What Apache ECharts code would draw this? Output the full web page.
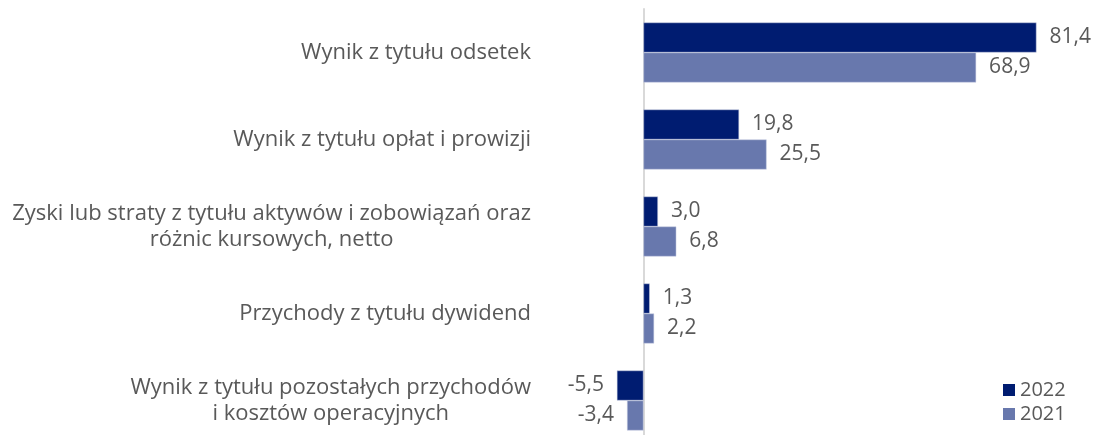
<!DOCTYPE html>
<html>
<head>
<meta charset="UTF-8">
<title>Wyniki</title>
<script src="https://cdn.jsdelivr.net/npm/echarts@6/dist/echarts.min.js"></script>
<style>
  html, body { margin: 0; padding: 0; background: #fff; }
</style>
</head>
<body>
<div id="main" style="width:1094px;height:435px;"></div>
<script type="text/javascript">
var categories = [
  'Wynik z tytułu odsetek',
  'Wynik z tytułu opłat i prowizji',
  'Zyski lub straty z tytułu aktywów i zobowiązań oraz\nróżnic kursowych, netto',
  'Przychody z tytułu dywidend',
  'Wynik z tytułu pozostałych przychodów\ni kosztów operacyjnych'
];
var values2022 = [81.4, 19.8, 3.0, 1.3, -5.5];
var values2021 = [68.9, 25.5, 6.8, 2.2, -3.4];

var fontFam = '"Open Sans", "Noto Sans", sans-serif';
var textGray = '#595959';

function fmt(p) {
  return p.value.toFixed(1).replace('.', ',');
}

// ujemne wartosci maja etykiete po lewej stronie
function withLabels(arr) {
  return arr.map(function (v) {
    return v < 0 ? { value: v, label: { position: 'left' } } : v;
  });
}

var chart = echarts.init(document.getElementById('main'));
chart.setOption({
  backgroundColor: '#ffffff',
  animation: false,
  legend: {
    orient: 'vertical',
    left: 1003,
    top: 380,
    padding: 0,
    itemWidth: 12,
    itemHeight: 12,
    itemGap: 4,
    icon: 'rect',
    itemStyle: { borderWidth: 0 },
    textStyle: { color: textGray, fontSize: 20, fontFamily: fontFam },
    data: ['2022', '2021']
  },
  grid: {
    left: 600,
    right: 16,
    top: 9,
    height: 435,
    containLabel: false,
    outerBoundsMode: 'none'
  },
  xAxis: {
    type: 'value',
    min: -9,
    max: 90,
    show: false
  },
  yAxis: {
    type: 'category',
    inverse: true,
    data: categories,
    axisLine: { onZero: true, lineStyle: { color: '#d9d9d9', width: 2 } },
    axisTick: { show: false },
    axisLabel: {
      margin: 69,
      align: 'right',
      formatter: function (v) {
        return v.split('\n').map(function (l) { return '{c|' + l + '}'; }).join('\n');
      },
      rich: {
        c: {
          align: 'center',
          color: textGray,
          fontSize: 22,
          fontFamily: fontFam,
          lineHeight: 26
        }
      }
    }
  },
  series: [{
    name: '2022',
    type: 'bar',
    barWidth: 30,
    barGap: '0%',
    data: withLabels(values2022),
    itemStyle: { color: '#001c71', borderColor: '#c9cfe3', borderWidth: 0.5 },
    label: {
      show: true, position: 'right', distance: 13,
      color: textGray, fontSize: 21, fontFamily: fontFam, formatter: fmt
    }
  }, {
    name: '2021',
    type: 'bar',
    barWidth: 30,
    data: withLabels(values2021),
    itemStyle: { color: '#6878ad', borderColor: '#c9cfe3', borderWidth: 0.5 },
    label: {
      show: true, position: 'right', distance: 13,
      color: textGray, fontSize: 21, fontFamily: fontFam, formatter: fmt
    }
  }]
});
</script>
</body>
</html>
